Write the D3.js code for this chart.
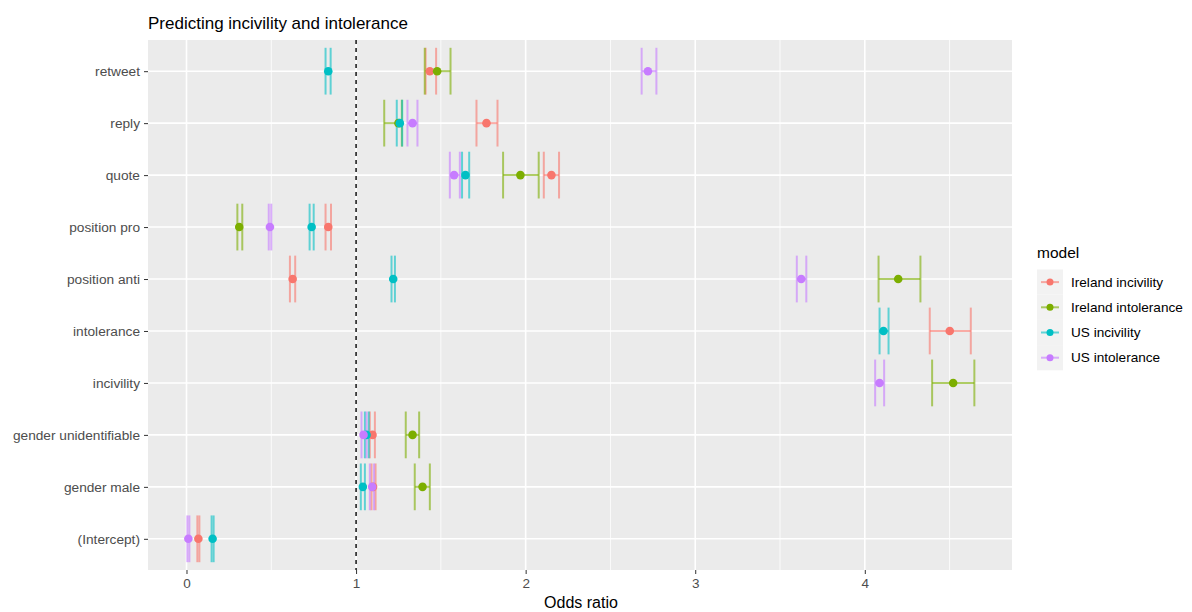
<!DOCTYPE html>
<html lang="en">
<head>
<meta charset="UTF-8">
<title>Predicting incivility and intolerance</title>
<script src="https://d3js.org/d3.v7.min.js"></script>
<style>
  body { margin: 0; background: #fff; }
  svg { font-family: "Liberation Sans", Arial, sans-serif; display: block; }
</style>
</head>
<body>
<div id="chart"></div>
<script>
// categories, top to bottom
const terms = ["retweet", "reply", "quote", "position pro", "position anti",
  "intolerance", "incivility", "gender unidentifiable", "gender male", "(Intercept)"];
const models = ["Ireland incivility", "Ireland intolerance", "US incivility", "US intolerance"];
const colors = ["#F8766D", "#7CAE00", "#00BFC4", "#C77CFF"];

// odds ratio estimates per model, in order of terms (null = not shown)
const irelandIncivility = [1.435, 1.769, 2.152, 0.836, 0.626, 4.501, null, 1.097, 1.100, 0.070];
const irelandIntolerance = [1.478, 1.250, 1.969, 0.311, 4.197, null, 4.521, 1.333, 1.392, null];
const usIncivility = [0.836, 1.258, 1.645, 0.738, 1.219, 4.110, null, 1.062, 1.040, 0.154];
const usIntolerance = [2.721, 1.333, 1.578, 0.492, 3.625, null, 4.087, 1.044, 1.095, 0.011];

// lower / upper confidence limits
const irelandIncivilityLo = [1.410, 1.710, 2.107, 0.820, 0.610, 4.383, null, 1.081, 1.091, 0.064];
const irelandIncivilityHi = [1.472, 1.834, 2.197, 0.852, 0.641, 4.625, null, 1.111, 1.115, 0.076];
const irelandIntoleranceLo = [1.405, 1.166, 1.867, 0.300, 4.081, null, 4.397, 1.293, 1.346, null];
const irelandIntoleranceHi = [1.557, 1.270, 2.077, 0.329, 4.328, null, 4.646, 1.372, 1.435, null];
const usIncivilityLo = [0.820, 1.240, 1.625, 0.726, 1.209, 4.087, null, 1.052, 1.028, 0.148];
const usIncivilityHi = [0.850, 1.272, 1.667, 0.750, 1.229, 4.140, null, 1.075, 1.052, 0.160];
const usIntoleranceLo = [2.684, 1.303, 1.553, 0.485, 3.599, null, 4.061, 1.032, 1.081, 0.005];
const usIntoleranceHi = [2.771, 1.362, 1.612, 0.500, 3.655, null, 4.114, 1.062, 1.106, 0.017];

const xTicks = [0, 1, 2, 3, 4];

const est = [irelandIncivility, irelandIntolerance, usIncivility, usIntolerance];
const lo = [irelandIncivilityLo, irelandIntoleranceLo, usIncivilityLo, usIntoleranceLo];
const hi = [irelandIncivilityHi, irelandIntoleranceHi, usIncivilityHi, usIntoleranceHi];

const rows = [];
models.forEach((m, mi) => {
  terms.forEach((t, ti) => {
    if (est[mi][ti] != null) rows.push({model: m, mi: mi, term: t, est: est[mi][ti], lo: lo[mi][ti], hi: hi[mi][ti]});
  });
});

const width = 1192, height = 612;
const panel = {left: 148, top: 40, right: 1012, bottom: 570};

const svg = d3.select("#chart").append("svg")
  .attr("width", width).attr("height", height);

const x = d3.scaleLinear().domain([-0.227, 4.868]).range([panel.left, panel.right]);
const y = d3.scalePoint().domain(terms).range([panel.top, panel.bottom]).padding(0.6);
const color = d3.scaleOrdinal().domain(models).range(colors);
const barH = y.step() * 0.9;

// panel background
svg.append("rect")
  .attr("x", panel.left).attr("y", panel.top)
  .attr("width", panel.right - panel.left).attr("height", panel.bottom - panel.top)
  .attr("fill", "#EBEBEB");

// minor grid
svg.append("g").selectAll("line")
  .data(d3.range(-0.5, 5, 1).filter(v => x(v) > panel.left && x(v) < panel.right))
  .join("line")
  .attr("x1", d => x(d)).attr("x2", d => x(d))
  .attr("y1", panel.top).attr("y2", panel.bottom)
  .attr("stroke", "#fff").attr("stroke-width", 0.8);

// major grid
svg.append("g").selectAll("line")
  .data(xTicks).join("line")
  .attr("x1", d => x(d)).attr("x2", d => x(d))
  .attr("y1", panel.top).attr("y2", panel.bottom)
  .attr("stroke", "#fff").attr("stroke-width", 1.6);
svg.append("g").selectAll("line")
  .data(terms).join("line")
  .attr("x1", panel.left).attr("x2", panel.right)
  .attr("y1", d => y(d)).attr("y2", d => y(d))
  .attr("stroke", "#fff").attr("stroke-width", 1.6);

// reference line at 1
svg.append("line")
  .attr("x1", x(1)).attr("x2", x(1))
  .attr("y1", panel.top).attr("y2", panel.bottom)
  .attr("stroke", "#000").attr("stroke-width", 1.4)
  .attr("stroke-dasharray", "4,4");

// error bars
const eb = svg.append("g").selectAll("g")
  .data(rows).join("g")
  .attr("stroke", d => color(d.model))
  .attr("stroke-width", 2)
  .attr("stroke-opacity", 0.6)
  .attr("fill", "none");
eb.append("line")
  .attr("x1", d => x(d.lo)).attr("x2", d => x(d.hi))
  .attr("y1", d => y(d.term)).attr("y2", d => y(d.term));
eb.append("line")
  .attr("x1", d => x(d.lo)).attr("x2", d => x(d.lo))
  .attr("y1", d => y(d.term) - barH / 2).attr("y2", d => y(d.term) + barH / 2);
eb.append("line")
  .attr("x1", d => x(d.hi)).attr("x2", d => x(d.hi))
  .attr("y1", d => y(d.term) - barH / 2).attr("y2", d => y(d.term) + barH / 2);

// points
svg.append("g").selectAll("circle")
  .data(rows).join("circle")
  .attr("cx", d => x(d.est)).attr("cy", d => y(d.term))
  .attr("r", 4.3)
  .attr("fill", d => color(d.model));

// axes
const xAxis = svg.append("g")
  .attr("transform", `translate(0,${panel.bottom})`)
  .call(d3.axisBottom(x).tickValues(xTicks).tickSize(4).tickPadding(4).tickFormat(d3.format("d")));
xAxis.select(".domain").remove();
xAxis.selectAll("line").attr("stroke", "#333");
xAxis.selectAll("text").attr("fill", "#4D4D4D").style("font-size", "13.5px");

const yAxis = svg.append("g")
  .attr("transform", `translate(${panel.left},0)`)
  .call(d3.axisLeft(y).tickSize(4).tickPadding(4));
yAxis.select(".domain").remove();
yAxis.selectAll("line").attr("stroke", "#333");
yAxis.selectAll("text").attr("fill", "#4D4D4D").style("font-size", "13.7px");

// titles
svg.append("text")
  .attr("x", panel.left).attr("y", 29)
  .attr("fill", "#000").style("font-size", "17px")
  .text("Predicting incivility and intolerance");
svg.append("text")
  .attr("x", 581).attr("y", 608)
  .attr("text-anchor", "middle")
  .attr("fill", "#000").style("font-size", "16px")
  .text("Odds ratio");

// legend
const legend = svg.append("g").attr("transform", "translate(1037,0)");
legend.append("text")
  .attr("x", 0).attr("y", 258)
  .attr("fill", "#000").style("font-size", "15.5px")
  .text("model");
const keyH = 25.2;
const items = legend.selectAll("g.key")
  .data(models).join("g")
  .attr("class", "key")
  .attr("transform", (d, i) => `translate(0,${269.5 + i * keyH})`);
items.append("rect")
  .attr("width", 26).attr("height", keyH)
  .attr("fill", "#F2F2F2");
items.append("line")
  .attr("x1", 4).attr("x2", 22)
  .attr("y1", keyH / 2).attr("y2", keyH / 2)
  .attr("stroke", d => color(d)).attr("stroke-width", 2).attr("stroke-opacity", 0.6);
items.append("circle")
  .attr("cx", 13).attr("cy", keyH / 2).attr("r", 3.5)
  .attr("fill", d => color(d));
items.append("text")
  .attr("x", 34).attr("y", keyH / 2).attr("dy", "0.35em")
  .attr("fill", "#000").style("font-size", "13.6px")
  .text(d => d);
</script>
</body>
</html>
